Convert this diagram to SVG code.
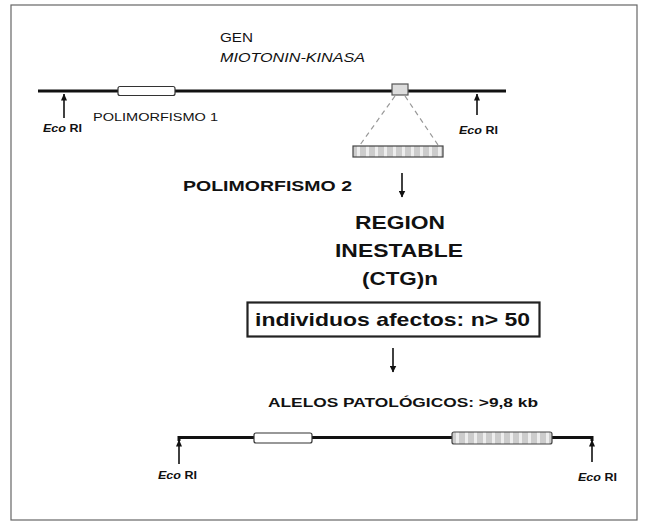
<svg xmlns="http://www.w3.org/2000/svg" width="647" height="525" viewBox="0 0 647 525">
<defs>
<style>
.t{font-family:"Liberation Sans",Arial,sans-serif;fill:#111}
.b{font-weight:bold}
.dna{stroke:#111;stroke-width:3;fill:none}
.tick{stroke:#111;stroke-width:1.6;fill:none}
.wbox{fill:#fff;stroke:#333;stroke-width:1.2}
.hbox{fill:url(#hatch);stroke:#444;stroke-width:1.2}
.dash{stroke:#999;stroke-width:1.2;stroke-dasharray:5 4;fill:none}
.flow{stroke:#111;stroke-width:1.6;fill:none}
.eco{font-size:10px}
</style>
<pattern id="hatch" x="0" y="0" width="9" height="12" patternUnits="userSpaceOnUse">
<rect width="9" height="12" fill="#ccc"/>
<rect x="6" width="3" height="12" fill="#eee"/>
</pattern>
<marker id="up" markerWidth="6" markerHeight="7" refX="3" refY="0.5" orient="0" markerUnits="userSpaceOnUse" viewBox="0 0 6 7">
<path d="M0,7 L3,0 L6,7 Z" fill="#111"/>
</marker>
<marker id="ah" markerWidth="7" markerHeight="7" refX="3.5" refY="6.5" orient="0" markerUnits="userSpaceOnUse" viewBox="0 0 7 7">
<path d="M0,0 L3.5,7 L7,0 Z" fill="#111"/>
</marker>
</defs>
<rect x="11" y="5" width="626" height="515" fill="#fff" stroke="#666" stroke-width="1.2"/>

<g id="gene-title">
<text class="t" x="220" y="42" font-size="12" fill="#333" textLength="33" lengthAdjust="spacingAndGlyphs">GEN</text>
<text class="t" x="220" y="62" font-size="12" font-style="italic" textLength="145" lengthAdjust="spacingAndGlyphs">MIOTONIN-KINASA</text>
</g>

<g id="gene-top">
<line class="dna" x1="38" y1="91" x2="506" y2="91"/>
<rect class="wbox" x="118" y="86.5" width="57" height="9" rx="2"/>
<rect x="392" y="84" width="16" height="11" fill="#ddd" stroke="#555" stroke-width="1.2"/>
<line class="tick" x1="64" y1="118" x2="64" y2="94" marker-end="url(#up)"/>
<line class="tick" x1="477" y1="115" x2="477" y2="94" marker-end="url(#up)"/>
<text class="t b eco" x="43" y="132" textLength="39" lengthAdjust="spacingAndGlyphs"><tspan font-style="italic">Eco</tspan> RI</text>
<text class="t b eco" x="459" y="134" textLength="39" lengthAdjust="spacingAndGlyphs"><tspan font-style="italic">Eco</tspan> RI</text>
<text class="t" x="93" y="121" font-size="11" textLength="125" lengthAdjust="spacingAndGlyphs">POLIMORFISMO 1</text>
</g>

<g id="zoom-expansion">
<line class="dash" x1="395" y1="96" x2="360" y2="145"/>
<line class="dash" x1="405" y1="96" x2="438" y2="145"/>
<rect class="hbox" x="353" y="146" width="90" height="11"/>
</g>

<g id="polimorfismo2">
<text class="t b" x="183" y="191" font-size="15" textLength="169" lengthAdjust="spacingAndGlyphs">POLIMORFISMO 2</text>
</g>

<g id="region">
<text class="t b" x="400" y="229" font-size="19" text-anchor="middle" textLength="90" lengthAdjust="spacingAndGlyphs">REGION</text>
<text class="t b" x="399" y="257" font-size="19" text-anchor="middle" textLength="128" lengthAdjust="spacingAndGlyphs">INESTABLE</text>
<text class="t b" x="400" y="285" font-size="19" text-anchor="middle" textLength="76" lengthAdjust="spacingAndGlyphs">(CTG)n</text>
</g>

<g id="affected-box">
<rect x="247.5" y="302.5" width="292" height="34" fill="#fff" stroke="#222" stroke-width="2.2"/>
<text class="t b" x="255" y="326" font-size="19" textLength="275" lengthAdjust="spacingAndGlyphs">individuos afectos: n&gt; 50</text>
</g>

<g id="alelos-label">
<text class="t b" x="268" y="407" font-size="12.5" textLength="270" lengthAdjust="spacingAndGlyphs">ALELOS PATOLÓGICOS: &gt;9,8 kb</text>
</g>

<g id="gene-bottom">
<polyline class="dna" points="179,441 179,437.5 592,437.5 592,441" stroke-width="2.6"/>
<line class="tick" x1="179" y1="464" x2="179" y2="440" marker-end="url(#up)"/>
<line class="tick" x1="592" y1="462" x2="592" y2="440" marker-end="url(#up)"/>
<rect class="wbox" x="254" y="433" width="58" height="10" rx="2"/>
<rect class="hbox" x="452" y="432" width="100" height="12" rx="2"/>
<text class="t b eco" x="158" y="479" textLength="39" lengthAdjust="spacingAndGlyphs"><tspan font-style="italic">Eco</tspan> RI</text>
<text class="t b eco" x="578" y="481" textLength="39" lengthAdjust="spacingAndGlyphs"><tspan font-style="italic">Eco</tspan> RI</text>
</g>

<g id="connectors">
<line class="flow" x1="402" y1="173" x2="402" y2="197" marker-end="url(#ah)"/>
<line class="flow" x1="393" y1="348" x2="393" y2="372" marker-end="url(#ah)"/>
</g>
</svg>
